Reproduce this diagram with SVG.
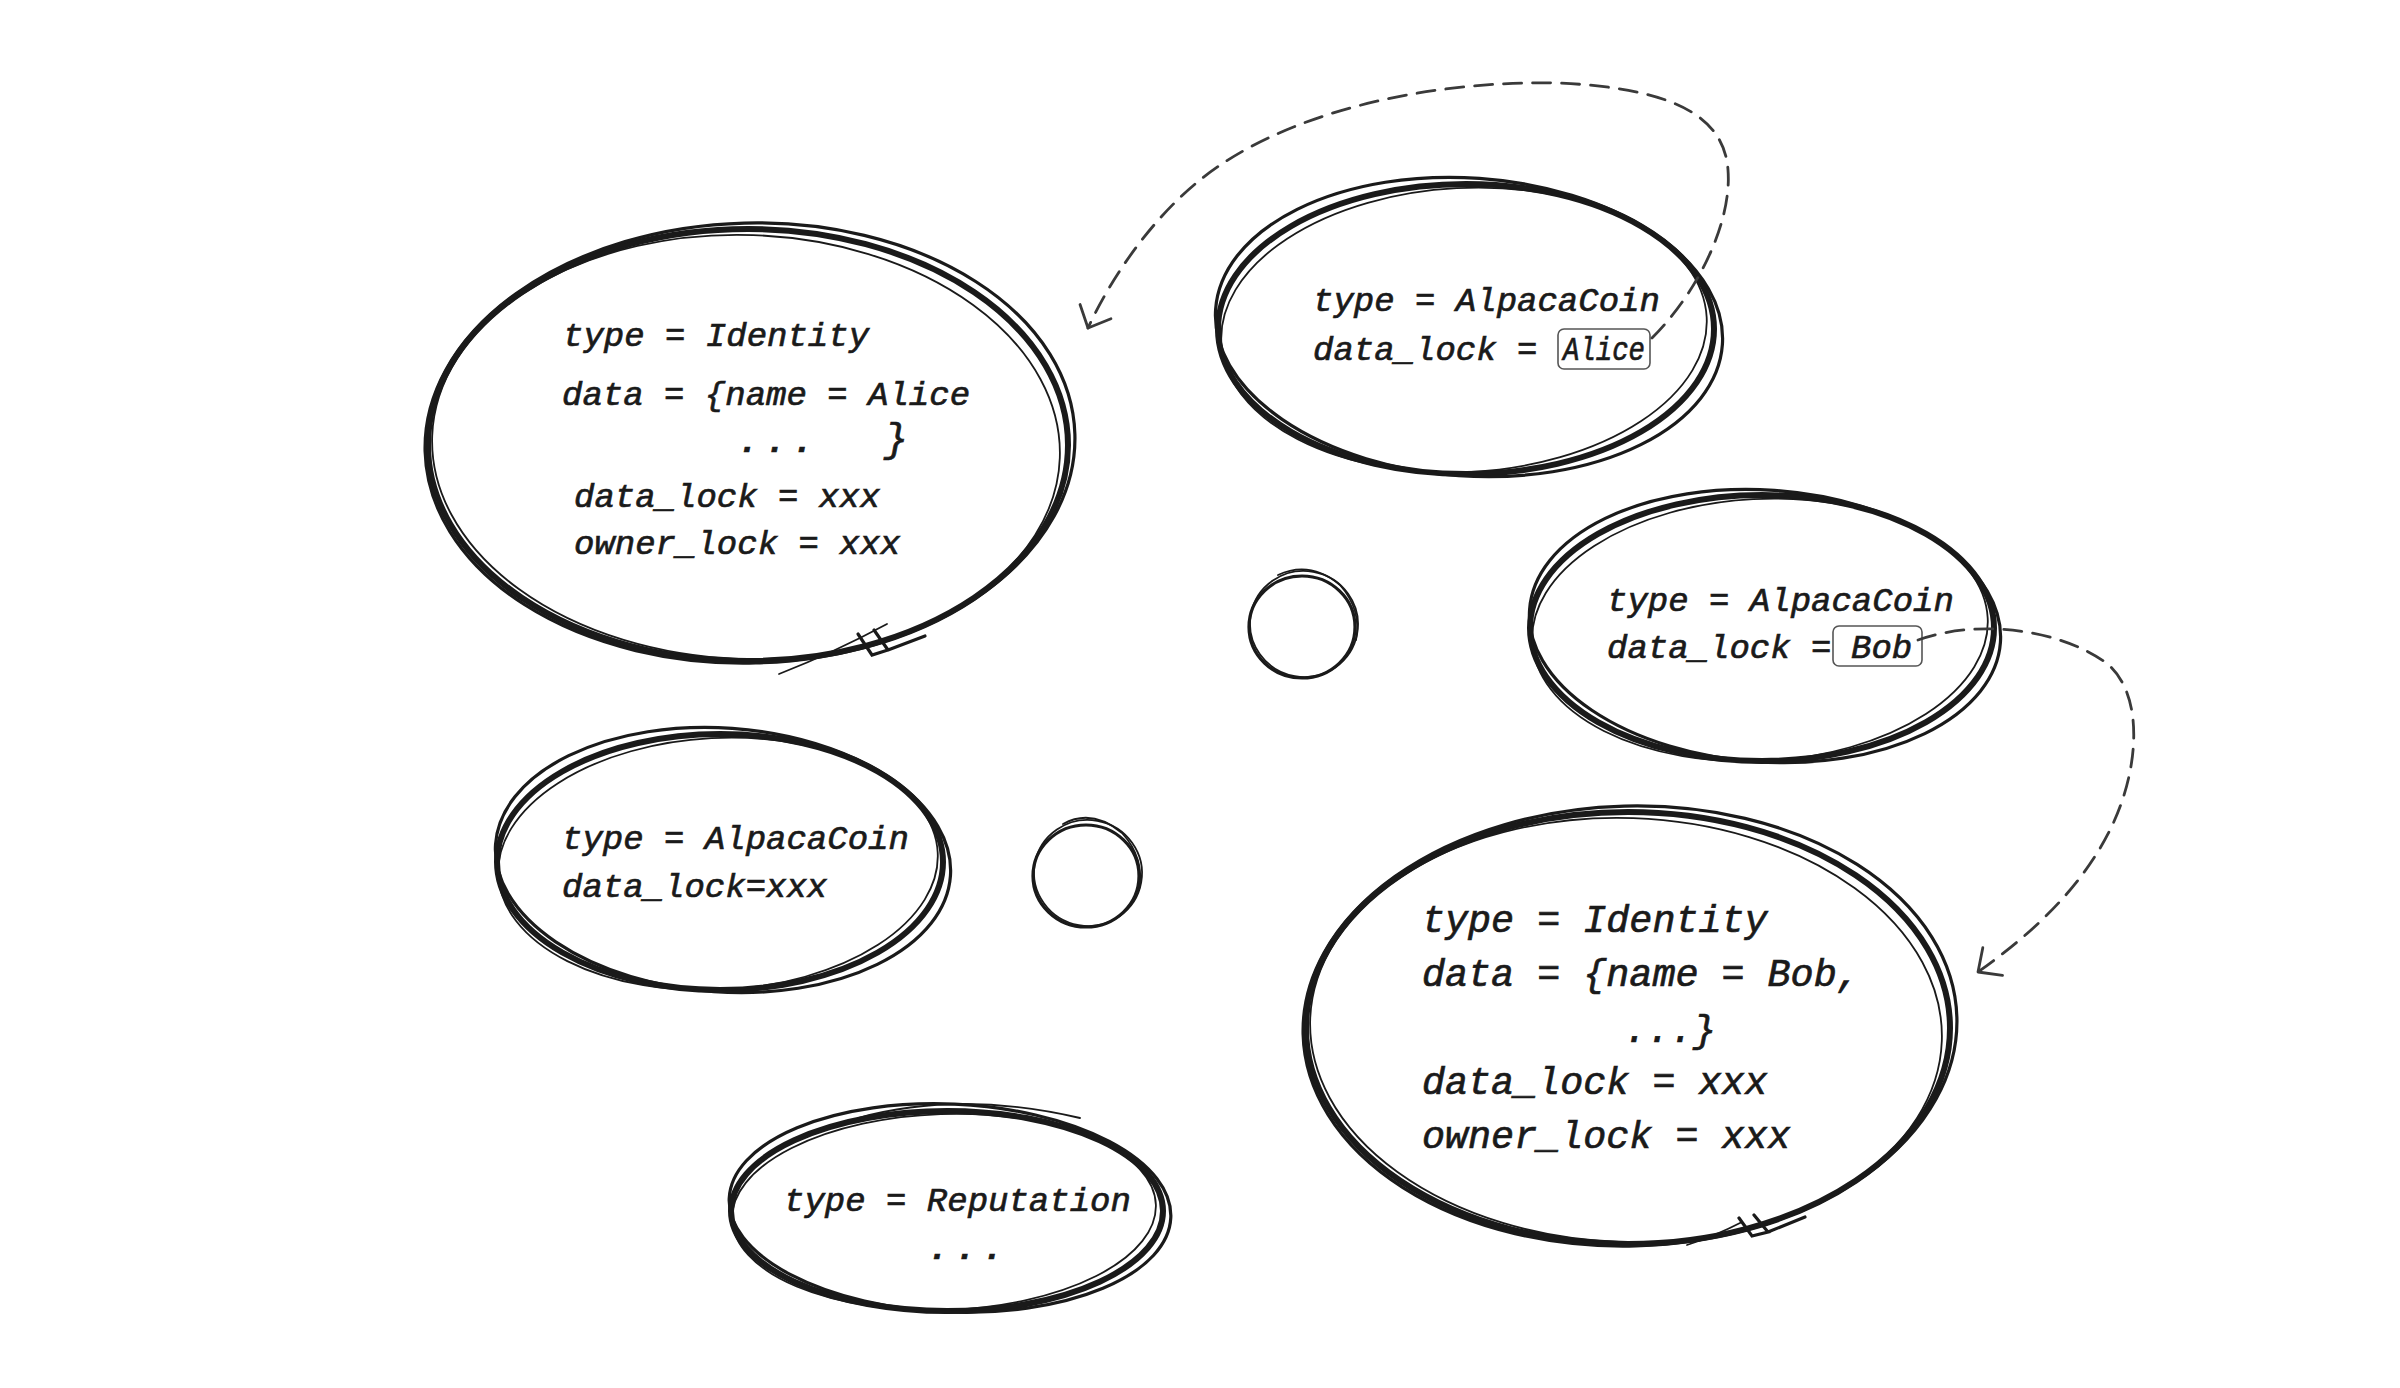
<svg xmlns="http://www.w3.org/2000/svg" width="2400" height="1388" viewBox="0 0 2400 1388">
<style>
.s1{fill:none;stroke:#1a1a1a;stroke-width:6;stroke-linecap:round}
.s2{fill:none;stroke:#1a1a1a;stroke-width:3.2;stroke-linecap:round}
.s3{fill:none;stroke:#1a1a1a;stroke-width:1.8;stroke-linecap:round}
.t{font-family:"Liberation Mono","DejaVu Sans Mono",monospace;font-style:italic;font-size:34px;fill:#1a1a1a;stroke:#1a1a1a;stroke-width:0.7}
.tl{font-size:38.4px}
.dots{font-weight:bold;letter-spacing:7px}
.box{fill:none;stroke:#555;stroke-width:1.6}
.dash{fill:none;stroke:#3a3a3a;stroke-width:2.8;stroke-dasharray:18 11;stroke-linecap:round}
</style>
<defs>
<marker id="arrow" viewBox="0 0 24 40" refX="21" refY="20" markerWidth="24" markerHeight="40" orient="auto" markerUnits="userSpaceOnUse">
<path d="M3,3 L21,20 L3,37" fill="none" stroke="#3a3a3a" stroke-width="2.8" stroke-linecap="round" stroke-linejoin="round"/>
</marker>
</defs>
<rect width="2400" height="1388" fill="#ffffff"/>

<g id="node-identity-alice">
<ellipse class="s1" cx="748" cy="445" rx="320" ry="216"/>
<ellipse class="s2" cx="750" cy="443" rx="325" ry="220" transform="rotate(-1.5 750 443)"/>
<ellipse class="s3" cx="746" cy="447" rx="314" ry="212" transform="rotate(2 746 447)"/>
<path class="s3" d="M 779 674 Q 835 652 887 624"/>
<path class="s2" d="M 858 634 L 872 655 L 888 650 L 874 630 M 888 650 L 925 636"/>
<text class="t" x="563" y="346">type = Identity</text>
<text class="t" x="562" y="405">data = {name = Alice</text>
<text class="t dots" x="738" y="452">...</text>
<text class="t" x="884" y="452" style="font-size:40px">}</text>
<text class="t" x="574" y="507">data_lock = xxx</text>
<text class="t" x="574" y="554">owner_lock = xxx</text>
</g>

<g id="node-coin-alice">
<ellipse class="s1" cx="1466" cy="329" rx="248" ry="145"/>
<ellipse class="s2" cx="1469" cy="327" rx="254" ry="149" transform="rotate(4 1469 327)"/>
<ellipse class="s3" cx="1464" cy="330" rx="243" ry="142" transform="rotate(-3 1464 330)"/>
<text class="t" x="1313" y="311">type = AlpacaCoin</text>
<text class="t" x="1313" y="360">data_lock =</text>
<rect class="box" x="1558" y="329" width="92" height="40" rx="6"/>
<text class="t" x="1563" y="360" textLength="82" lengthAdjust="spacingAndGlyphs">Alice</text>
</g>

<g id="node-coin-bob">
<ellipse class="s1" cx="1762" cy="628" rx="232" ry="133"/>
<ellipse class="s2" cx="1765" cy="626" rx="236" ry="136" transform="rotate(4 1765 626)"/>
<ellipse class="s3" cx="1760" cy="630" rx="228" ry="131" transform="rotate(-3 1760 630)"/>
<text class="t" x="1607" y="611">type = AlpacaCoin</text>
<text class="t" x="1607" y="658">data_lock =</text>
<rect class="box" x="1833" y="626" width="89" height="40" rx="6"/>
<text class="t" x="1851" y="658">Bob</text>
</g>

<g id="node-coin-xxx">
<ellipse class="s1" cx="720" cy="862" rx="223" ry="128"/>
<ellipse class="s2" cx="723" cy="860" rx="228" ry="132" transform="rotate(4 723 860)"/>
<ellipse class="s3" cx="718" cy="864" rx="220" ry="126" transform="rotate(-3 718 864)"/>
<text class="t" x="562" y="849">type = AlpacaCoin</text>
<text class="t" x="562" y="897">data_lock=xxx</text>
</g>

<g id="node-identity-bob">
<ellipse class="s1" cx="1628" cy="1028" rx="322" ry="216"/>
<ellipse class="s2" cx="1630" cy="1026" rx="327" ry="220" transform="rotate(-1.5 1630 1026)"/>
<ellipse class="s3" cx="1626" cy="1030" rx="316" ry="212" transform="rotate(2 1626 1030)"/>
<path class="s3" d="M 1687 1245 Q 1715 1236 1742 1222"/>
<path class="s2" d="M 1739 1218 L 1752 1236 L 1768 1232 L 1754 1215 M 1768 1232 L 1805 1217"/>
<text class="t tl" x="1422" y="932">type = Identity</text>
<text class="t tl" x="1422" y="986">data = {name = Bob,</text>
<text class="t tl" x="1624" y="1042">...}</text>
<text class="t tl" x="1422" y="1094">data_lock = xxx</text>
<text class="t tl" x="1422" y="1148">owner_lock = xxx</text>
</g>

<g id="node-reputation">
<ellipse class="s1" cx="947" cy="1211" rx="216" ry="100"/>
<ellipse class="s2" cx="950" cy="1208" rx="221" ry="104" transform="rotate(2.5 950 1208)"/>
<ellipse class="s3" cx="944" cy="1212" rx="212" ry="98" transform="rotate(-2 944 1212)"/>
<path class="s3" d="M 858 1118 Q 960 1090 1080 1118"/>
<text class="t" x="784" y="1211">type = Reputation</text>
<text class="t dots" x="928" y="1259">...</text>
</g>

<g id="node-circle-1">
<ellipse class="s2" cx="1302" cy="627" rx="53" ry="51"/>
<ellipse class="s3" cx="1304" cy="624" rx="54" ry="53" transform="rotate(10 1304 624)"/>
<path class="s3" d="M 1278 575 Q 1310 560 1340 585 Q 1362 610 1356 640"/>
</g>

<g id="node-circle-2">
<ellipse class="s2" cx="1086" cy="876" rx="53" ry="51"/>
<ellipse class="s3" cx="1088" cy="873" rx="54" ry="53" transform="rotate(10 1088 873)"/>
<path class="s3" d="M 1063 824 Q 1092 808 1122 833 Q 1145 858 1139 890"/>
</g>

<g id="connectors">
<path class="dash" marker-end="url(#arrow)" d="M 1652 338 C 1700 290, 1732 220, 1728 170 C 1724 110, 1660 88, 1560 83 C 1420 80, 1280 115, 1200 180 C 1150 220, 1110 280, 1088 328"/>
<path class="dash" marker-end="url(#arrow)" d="M 1918 640 C 1980 618, 2060 630, 2105 662 C 2145 692, 2140 770, 2110 830 C 2080 890, 2030 935, 1978 972"/>
</g>
</svg>
